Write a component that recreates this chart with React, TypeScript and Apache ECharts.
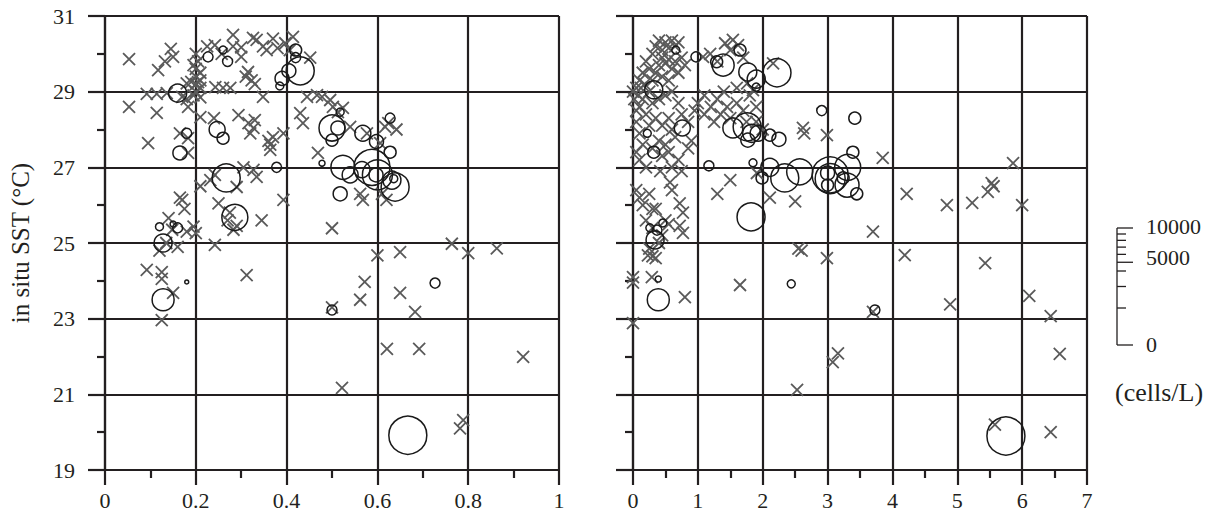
import React, { useEffect, useRef } from "react";
import * as echarts from "echarts";

// Left panel (x: 0–1)
const leftCrosses: number[][] = [
  [0.053, 29.86], [0.145, 30.13], [0.15, 29.92], [0.132, 29.8], [0.117, 29.57], [0.053, 28.6], [0.114, 28.44],
  [0.095, 27.64], [0.092, 28.94], [0.114, 28.94], [0.136, 28.96], [0.17, 28.86], [0.18, 29.22], [0.19, 29.26],
  [0.183, 28.6], [0.18, 28.8],
  [0.2, 29.0], [0.2, 29.2], [0.2, 29.4], [0.2, 29.6], [0.21, 29.3], [0.205, 29.8], [0.21, 29.1], [0.195, 28.9],
  [0.2, 30.0], [0.21, 29.5], [0.195, 29.7], [0.205, 29.25], [0.21, 28.33], [0.24, 28.3],
  [0.225, 30.2], [0.242, 30.23], [0.257, 30.0], [0.282, 30.5], [0.282, 30.2], [0.3, 29.92], [0.3, 30.17],
  [0.326, 30.42], [0.334, 30.37], [0.348, 30.2], [0.356, 30.1], [0.37, 30.4], [0.38, 30.15], [0.397, 30.28],
  [0.414, 30.45], [0.407, 30.1], [0.452, 29.9],
  [0.315, 29.52], [0.323, 29.3], [0.31, 29.4], [0.348, 28.86], [0.33, 29.2], [0.243, 29.12], [0.26, 29.1],
  [0.276, 29.1], [0.21, 28.85], [0.294, 28.38], [0.316, 28.17], [0.327, 28.04], [0.33, 28.25], [0.32, 27.9],
  [0.364, 27.6], [0.36, 27.7], [0.37, 27.8], [0.393, 27.9], [0.305, 27.0], [0.327, 26.93], [0.334, 26.75],
  [0.232, 26.66], [0.21, 26.5], [0.17, 26.14], [0.175, 25.9], [0.195, 25.43], [0.18, 25.3], [0.25, 26.05],
  [0.275, 25.8], [0.27, 25.6], [0.283, 25.35], [0.29, 25.45], [0.345, 25.6], [0.393, 26.14], [0.242, 24.95],
  [0.16, 24.9],
  [0.445, 28.86], [0.467, 28.91], [0.478, 28.86], [0.496, 28.78], [0.502, 28.6], [0.513, 28.46], [0.524, 28.57],
  [0.43, 28.43], [0.436, 28.17], [0.469, 27.38], [0.54, 28.07], [0.577, 27.9], [0.617, 28.07], [0.624, 28.17],
  [0.642, 28.0], [0.606, 27.64], [0.562, 26.3], [0.568, 26.14], [0.62, 26.14], [0.61, 26.3], [0.5, 25.39],
  [0.6, 24.67], [0.65, 24.76], [0.764, 24.98], [0.8, 24.73], [0.863, 24.86],
  [0.092, 24.29], [0.125, 24.23], [0.125, 24.05], [0.15, 23.68], [0.125, 22.96], [0.312, 24.15],
  [0.572, 23.97], [0.562, 23.5], [0.65, 23.68], [0.683, 23.18], [0.5, 23.3], [0.621, 22.2], [0.692, 22.2],
  [0.921, 21.99], [0.522, 21.17], [0.789, 20.32], [0.782, 20.1],
  [0.14, 25.66], [0.148, 25.35], [0.165, 26.2], [0.2, 25.26], [0.242, 26.8], [0.29, 26.48], [0.364, 27.46],
  [0.165, 27.9], [0.183, 27.77], [0.183, 27.38], [0.12, 24.8], [0.135, 25.0],
];

// [x, SST, cells/L]
const leftCircles: number[][] = [
  [0.227, 29.92, 625], [0.26, 30.1, 400], [0.27, 29.8, 625], [0.16, 28.96, 2025], [0.18, 27.9, 625],
  [0.165, 27.38, 1225], [0.247, 28.0, 1600], [0.26, 27.77, 900], [0.267, 26.72, 4900], [0.286, 25.68, 4225],
  [0.378, 27.0, 625], [0.42, 30.1, 900], [0.42, 29.9, 625], [0.43, 29.55, 4900], [0.405, 29.55, 1225],
  [0.39, 29.35, 1225], [0.385, 29.15, 400], [0.12, 25.43, 400], [0.15, 25.5, 225], [0.16, 25.4, 625],
  [0.128, 25.0, 2025], [0.128, 23.5, 3025], [0.18, 23.97, 100], [0.5, 23.23, 625], [0.727, 23.94, 625],
  [0.667, 19.92, 9025],
  [0.518, 28.46, 400], [0.5, 28.04, 4225], [0.513, 28.04, 1225], [0.5, 27.72, 900], [0.568, 27.9, 1600],
  [0.598, 27.68, 1225], [0.628, 28.3, 625], [0.628, 27.4, 900], [0.478, 27.11, 225], [0.524, 27.0, 3600],
  [0.588, 27.0, 8100], [0.6, 26.8, 5625], [0.566, 26.94, 1600], [0.597, 26.8, 1225], [0.632, 26.66, 2025],
  [0.639, 26.48, 4900], [0.636, 26.7, 400], [0.518, 26.3, 1225], [0.54, 26.8, 1600],
];

// Right panel (x: 0–7)
const rightCrosses: number[][] = [
  [0.3, 30.0], [0.35, 30.2], [0.4, 30.35], [0.45, 30.1], [0.5, 30.3], [0.55, 30.15], [0.6, 30.35], [0.65, 30.2],
  [0.7, 30.3], [0.45, 29.9], [0.5, 29.75], [0.55, 29.85], [0.6, 29.6], [0.65, 29.8], [0.75, 29.9], [0.4, 29.7],
  [0.35, 29.5], [0.25, 29.6], [0.2, 29.8], [0.15, 29.5], [0.1, 29.3], [0.05, 29.1], [0.0, 29.0], [0.02, 28.8],
  [0.08, 28.9], [0.12, 29.1], [0.18, 29.2], [0.25, 29.0], [0.3, 29.3], [0.45, 29.4], [0.55, 29.3], [0.7, 29.5],
  [0.8, 29.7], [0.1, 28.6], [0.05, 28.5], [0.15, 28.8], [0.2, 28.4], [0.3, 28.7], [0.4, 28.8], [0.5, 28.9],
  [0.6, 29.0], [0.7, 28.7],
  [0.05, 28.2], [0.1, 27.9], [0.15, 27.6], [0.05, 27.4], [0.1, 27.2], [0.25, 28.1], [0.35, 28.3], [0.45, 28.1],
  [0.55, 28.3], [0.6, 28.0], [0.65, 27.8], [0.4, 27.7], [0.5, 27.6], [0.3, 27.5], [0.45, 27.3], [0.55, 27.4],
  [0.7, 27.2], [0.85, 27.5], [0.9, 27.7], [0.75, 28.4], [0.85, 28.2], [0.2, 27.0], [0.6, 27.0], [0.75, 26.9],
  [0.95, 28.5],
  [0.05, 26.4], [0.1, 26.2], [0.15, 26.0], [0.25, 26.3], [0.3, 25.9], [0.2, 25.6], [0.3, 25.4], [0.35, 25.9],
  [0.42, 26.9], [0.57, 26.6], [0.6, 26.4], [0.72, 26.05], [0.77, 25.8], [0.72, 25.45], [0.77, 25.27], [0.5, 25.6],
  [0.25, 24.85], [0.3, 24.65], [0.4, 25.0], [0.45, 25.2], [0.55, 25.5], [0.0, 24.1], [0.0, 23.95], [0.29, 24.1],
  [0.8, 23.57], [0.0, 22.88], [0.23, 24.67], [0.35, 24.6],
  [1.08, 29.92], [1.19, 30.0], [1.42, 30.28], [1.54, 30.37], [1.62, 30.23], [1.5, 30.1], [1.3, 29.8], [1.7, 29.9],
  [1.76, 29.22], [1.85, 29.04], [1.8, 28.9], [1.9, 28.6], [2.16, 29.75], [1.0, 28.7], [1.1, 28.4], [1.2, 28.6],
  [1.3, 28.8], [1.35, 28.4], [1.45, 28.6], [1.5, 28.3], [1.6, 28.7], [1.7, 28.5], [1.9, 28.2], [1.25, 28.2],
  [1.1, 28.9], [1.4, 29.0], [1.6, 29.1], [1.75, 28.2], [2.0, 28.0],
  [2.62, 28.04], [2.64, 27.9], [2.99, 27.85], [3.85, 27.25], [1.5, 26.66], [1.3, 26.3], [2.11, 26.2], [2.5, 26.1],
  [1.91, 26.85], [3.7, 25.3], [2.55, 24.85], [2.99, 24.6], [4.22, 26.3], [2.6, 24.8], [1.65, 23.89], [3.08, 21.85],
  [3.16, 22.08], [2.53, 21.12], [3.7, 23.18], [4.19, 24.68], [5.86, 27.11], [4.84, 26.0], [5.23, 26.06],
  [5.47, 26.35], [5.53, 26.58], [5.56, 26.5], [6.0, 26.0], [5.43, 24.47], [4.89, 23.38], [6.11, 23.6],
  [6.44, 23.07], [6.58, 22.07], [5.58, 20.2], [6.44, 20.0],
];

const rightCircles: number[][] = [
  [0.66, 30.1, 400], [0.97, 29.92, 625], [1.29, 29.79, 900], [1.39, 29.7, 3025], [1.65, 30.1, 900],
  [1.77, 29.52, 2025], [1.9, 29.33, 2025], [2.22, 29.5, 4900], [1.9, 29.12, 400], [0.32, 29.05, 2025],
  [2.91, 28.5, 625], [3.42, 28.3, 900], [0.76, 28.04, 1600], [0.22, 27.9, 400], [0.32, 27.4, 900],
  [1.54, 28.04, 2500], [1.76, 28.07, 4900], [1.83, 27.9, 2025], [1.77, 27.72, 1225], [1.93, 27.9, 1600],
  [2.11, 27.85, 900], [2.25, 27.74, 1225], [1.17, 27.04, 625], [1.85, 27.12, 400], [2.11, 27.0, 2025],
  [1.99, 26.72, 900], [2.34, 26.72, 4900], [2.57, 26.88, 4225], [3.04, 26.8, 8100], [3.04, 26.7, 5625],
  [3.0, 26.85, 1225], [3.0, 26.53, 900], [3.24, 26.72, 900], [3.31, 27.0, 4225], [3.39, 27.4, 900],
  [3.3, 26.53, 3600], [3.45, 26.3, 900], [1.82, 25.69, 4900], [0.34, 25.08, 2025], [0.37, 25.34, 625],
  [0.26, 25.4, 400], [0.46, 25.53, 400], [0.39, 23.5, 3025], [0.39, 24.05, 225], [2.44, 23.92, 400],
  [3.73, 23.23, 625], [5.75, 19.9, 9025],
];

const yTitle = "in situ SST (°C)";
const legendMajor = [0, 5000, 10000];
const legendMinor = [1000, 2500, 4000, 6000, 7000, 8000, 9000];
const legendLabels = ["0", "5000", "10000"];
const legendUnit = "(cells/L)";

const FONT = "'Liberation Serif', 'Times New Roman', serif";
const INK = "#231f20";
const CROSS = "#5a5a5a";

export default function App() {
  const ref = useRef<HTMLDivElement>(null);
  useEffect(() => {
    const chart = echarts.init(ref.current!, null, { renderer: "svg" });

    const lineStyle = { color: INK, width: 2.2 };
    const makeX = (gridIndex: number, max: number, interval: number) => ({
      type: "value",
      gridIndex,
      min: 0,
      max,
      interval,
      axisLine: { show: true, onZero: false, lineStyle },
      axisTick: { show: true, length: 15, lineStyle },
      minorTick: { show: true, splitNumber: 2, length: 8, lineStyle },
      splitLine: { show: true, lineStyle },
      axisLabel: { fontFamily: FONT, fontSize: 22, color: INK, margin: 19 },
    });
    const makeY = (gridIndex: number, labels: boolean) => ({
      type: "value",
      gridIndex,
      min: 19,
      max: 31,
      interval: 2,
      name: labels ? yTitle : "",
      nameLocation: "middle",
      nameGap: 72,
      nameTextStyle: { fontFamily: FONT, fontSize: 25, color: INK },
      axisLine: { show: true, onZero: false, lineStyle },
      axisTick: { show: true, length: 17, lineStyle },
      minorTick: { show: true, splitNumber: 2, length: 8, lineStyle },
      splitLine: { show: true, lineStyle },
      axisLabel: { show: labels, fontFamily: FONT, fontSize: 22, color: INK, margin: 30 },
    });

    const crossSymbol = "path://M0,0L10,10M10,0L0,10";
    const crossSeries = (idx: number, data: number[][]) => ({
      type: "scatter",
      xAxisIndex: idx,
      yAxisIndex: idx,
      data,
      symbol: crossSymbol,
      symbolSize: 12,
      itemStyle: { color: "rgba(0,0,0,0)", borderColor: CROSS, borderWidth: 1.8, opacity: 1 },
      silent: true,
    });
    const circleSeries = (idx: number, data: number[][]) => ({
      type: "scatter",
      xAxisIndex: idx,
      yAxisIndex: idx,
      data,
      symbol: "circle",
      symbolSize: (v: number[]) => 40 * Math.sqrt(v[2] / 10000),
      itemStyle: { color: "rgba(0,0,0,0)", borderColor: "#1a1a1a", borderWidth: 1.5, opacity: 1 },
      silent: true,
    });

    // legend scale (square-root scale)
    const lx = 1117;
    const lBottom = 345;
    const lLen = 117;
    const pos = (v: number) => lBottom - lLen * Math.sqrt(v / 10000);
    const labelShift = [-1, -5, -2];
    const graphics: any[] = [
      { type: "line", shape: { x1: lx, y1: pos(10000), x2: lx, y2: lBottom }, style: { stroke: INK, lineWidth: 1.3 } },
    ];
    legendMajor.forEach((v, i) => {
      const y = pos(v);
      graphics.push({ type: "line", shape: { x1: lx, y1: y, x2: lx + 16, y2: y }, style: { stroke: INK, lineWidth: 1.3 } });
      graphics.push({
        type: "text",
        x: lx + 29,
        y: y + labelShift[i],
        style: { text: legendLabels[i], font: `22px ${FONT}`, fill: INK, verticalAlign: "middle", align: "left" },
      });
    });
    legendMinor.forEach((v) => {
      const y = pos(v);
      graphics.push({ type: "line", shape: { x1: lx, y1: y, x2: lx + 9, y2: y }, style: { stroke: INK, lineWidth: 1.3 } });
    });
    graphics.push({
      type: "text",
      x: 1159,
      y: 392,
      style: { text: legendUnit, font: `26px ${FONT}`, fill: INK, verticalAlign: "middle", align: "center" },
    });

    chart.setOption({
      animation: false,
      backgroundColor: "#fff",
      grid: [
        { left: 105, top: 16, width: 454, height: 454 },
        { left: 633, top: 16, width: 454, height: 454 },
      ],
      xAxis: [makeX(0, 1, 0.2), makeX(1, 7, 1)],
      yAxis: [makeY(0, true), makeY(1, false)],
      series: [
        crossSeries(0, leftCrosses),
        circleSeries(0, leftCircles),
        crossSeries(1, rightCrosses),
        circleSeries(1, rightCircles),
      ],
      graphic: graphics,
    });
    return () => chart.dispose();
  }, []);
  return (
    <div
      ref={ref}
      style={{ position: "absolute", left: 0, top: 0, width: 1213, height: 517, background: "#fff" }}
    />
  );
}
